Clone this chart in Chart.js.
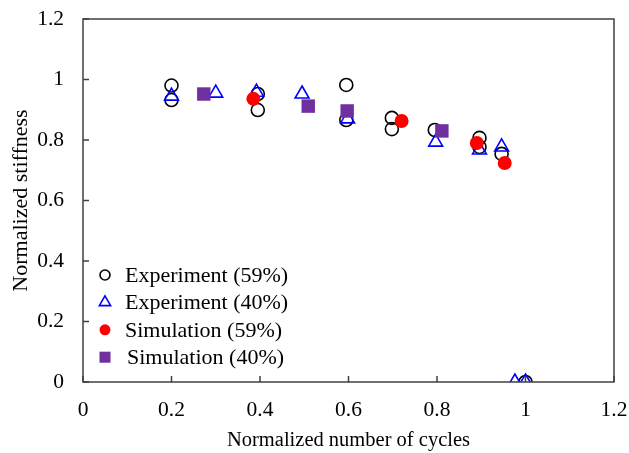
<!DOCTYPE html>
<html>
<head>
<meta charset="utf-8">
<script src="https://cdn.jsdelivr.net/npm/chart.js@4.4.1/dist/chart.umd.min.js"></script>
<style>
  html, body { margin: 0; padding: 0; background: #fff; }
  #wrap { width: 629px; height: 453px; }
</style>
</head>
<body>
<div id="wrap"><canvas id="c" width="629" height="453"></canvas></div>
<script>
const xTicks = [0, 0.2, 0.4, 0.6, 0.8, 1, 1.2];
const yTicks = [0, 0.2, 0.4, 0.6, 0.8, 1, 1.2];

const seriesNames = ["Experiment (59%)", "Experiment (40%)", "Simulation (59%)", "Simulation (40%)"];

const exp59X = [0.2, 0.2, 0.395, 0.395, 0.595, 0.595, 0.698, 0.698, 0.795, 0.896, 0.896, 0.946, 1.0];
const exp59Y = [0.98, 0.932, 0.952, 0.899, 0.982, 0.866, 0.873, 0.836, 0.833, 0.807, 0.777, 0.754, 0.0];

const exp40X = [0.2, 0.3, 0.392, 0.495, 0.598, 0.797, 0.896, 0.946, 0.976, 1.0];
const exp40Y = [0.945, 0.955, 0.958, 0.952, 0.87, 0.793, 0.767, 0.777, 0.0, 0.0];

const sim59X = [0.385, 0.72, 0.89, 0.953];
const sim59Y = [0.936, 0.863, 0.79, 0.724];

const sim40X = [0.273, 0.509, 0.597, 0.811];
const sim40Y = [0.952, 0.912, 0.896, 0.83];

function pts(xs, ys) { return xs.map((x, i) => ({ x: x, y: ys[i] })); }

const FONT = "'Liberation Serif', 'Times New Roman', serif";

const styles = [
  { pointStyle: 'circle', pointRadius: 6.5, backgroundColor: 'rgba(0,0,0,0)', borderColor: '#000000', pointBorderWidth: 1.6, legendRadius: 5 },
  { pointStyle: 'triangle', pointRadius: 8, backgroundColor: 'rgba(0,0,0,0)', borderColor: '#0000ff', pointBorderWidth: 1.6, legendRadius: 6.5 },
  { pointStyle: 'circle', pointRadius: 7, backgroundColor: '#ff0000', borderColor: '#ff0000', pointBorderWidth: 0, legendRadius: 5.5 },
  { pointStyle: 'rect', pointRadius: 9.5, backgroundColor: '#7030a0', borderColor: '#7030a0', pointBorderWidth: 0, legendRadius: 7.8 }
];

const dataArr = [pts(exp59X, exp59Y), pts(exp40X, exp40Y), pts(sim59X, sim59Y), pts(sim40X, sim40Y)];
const orders = [3, 2, 1, 0];

const datasets = dataArr.map((d, i) => ({
  label: seriesNames[i],
  data: d,
  pointStyle: styles[i].pointStyle,
  pointRadius: styles[i].pointRadius,
  pointHoverRadius: styles[i].pointRadius,
  pointBackgroundColor: styles[i].backgroundColor,
  pointBorderColor: styles[i].borderColor,
  pointBorderWidth: styles[i].pointBorderWidth,
  showLine: false,
  order: orders[i]
}));

const framePlugin = {
  id: 'frame',
  afterDatasetsDraw(chart) {
    const ctx = chart.ctx;
    const a = chart.chartArea;
    const xs = chart.scales.x, ys = chart.scales.y;
    ctx.save();
    ctx.strokeStyle = '#404040';
    ctx.lineWidth = 1.5;
    ctx.strokeRect(a.left, a.top, a.right - a.left, a.bottom - a.top);
    ctx.beginPath();
    const tl = 6;
    yTicks.forEach(v => {
      const y = ys.getPixelForValue(v);
      ctx.moveTo(a.left, y); ctx.lineTo(a.left + tl, y);
    });
    xTicks.forEach(v => {
      const x = xs.getPixelForValue(v);
      ctx.moveTo(x, a.bottom); ctx.lineTo(x, a.bottom - tl);
    });
    ctx.stroke();
    // legend
    const lx = 105, ly0 = 275, dy = 27.4;
    ctx.font = "22px " + FONT;
    ctx.textBaseline = 'middle';
    ctx.textAlign = 'left';
    seriesNames.forEach((name, i) => {
      const y = ly0 + i * dy;
      const s = styles[i];
      ctx.fillStyle = s.backgroundColor;
      ctx.strokeStyle = s.borderColor;
      ctx.lineWidth = s.pointBorderWidth || 0.01;
      Chart.helpers.drawPoint(ctx, { pointStyle: s.pointStyle, radius: s.legendRadius, rotation: 0, borderWidth: s.pointBorderWidth }, lx, y);
      ctx.fillStyle = '#000';
      ctx.fillText(name, i === 3 ? 127 : 125, y + 1);
    });
    ctx.restore();
  }
};

new Chart(document.getElementById('c'), {
  type: 'scatter',
  data: { datasets: datasets },
  options: {
    responsive: false,
    animation: false,
    events: [],
    layout: { padding: { left: 0, right: 15, top: 19, bottom: 0 } },
    plugins: { legend: { display: false }, tooltip: { enabled: false } },
    scales: {
      x: {
        type: 'linear', min: 0, max: 1.2,
        afterBuildTicks(scale) { scale.ticks = xTicks.map(v => ({ value: v })); },
        afterFit(scale) { scale.height = 453 - 382; scale.paddingLeft = 0; scale.paddingRight = 0; },
        grid: { display: false, drawTicks: false },
        border: { display: false },
        ticks: { color: '#000', font: { family: FONT, size: 21.5 }, padding: 15, maxRotation: 0,
          callback: (v) => String(v) },
        title: { display: true, text: 'Normalized number of cycles', color: '#000',
          font: { family: FONT, size: 20.5 }, padding: { top: 0, bottom: 0 } }
      },
      y: {
        type: 'linear', min: 0, max: 1.2,
        afterBuildTicks(scale) { scale.ticks = yTicks.map(v => ({ value: v })); },
        afterFit(scale) { scale.width = 83; scale.paddingTop = 0; scale.paddingBottom = 0; },
        grid: { display: false, drawTicks: false },
        border: { display: false },
        ticks: { color: '#000', font: { family: FONT, size: 21.5 }, padding: 19,
          callback: (v) => String(v) },
        title: { display: true, text: 'Normalized stiffness', color: '#000',
          font: { family: FONT, size: 22 }, padding: { top: 8, bottom: 0 } }
      }
    }
  },
  plugins: [framePlugin]
});
</script>
</body>
</html>
